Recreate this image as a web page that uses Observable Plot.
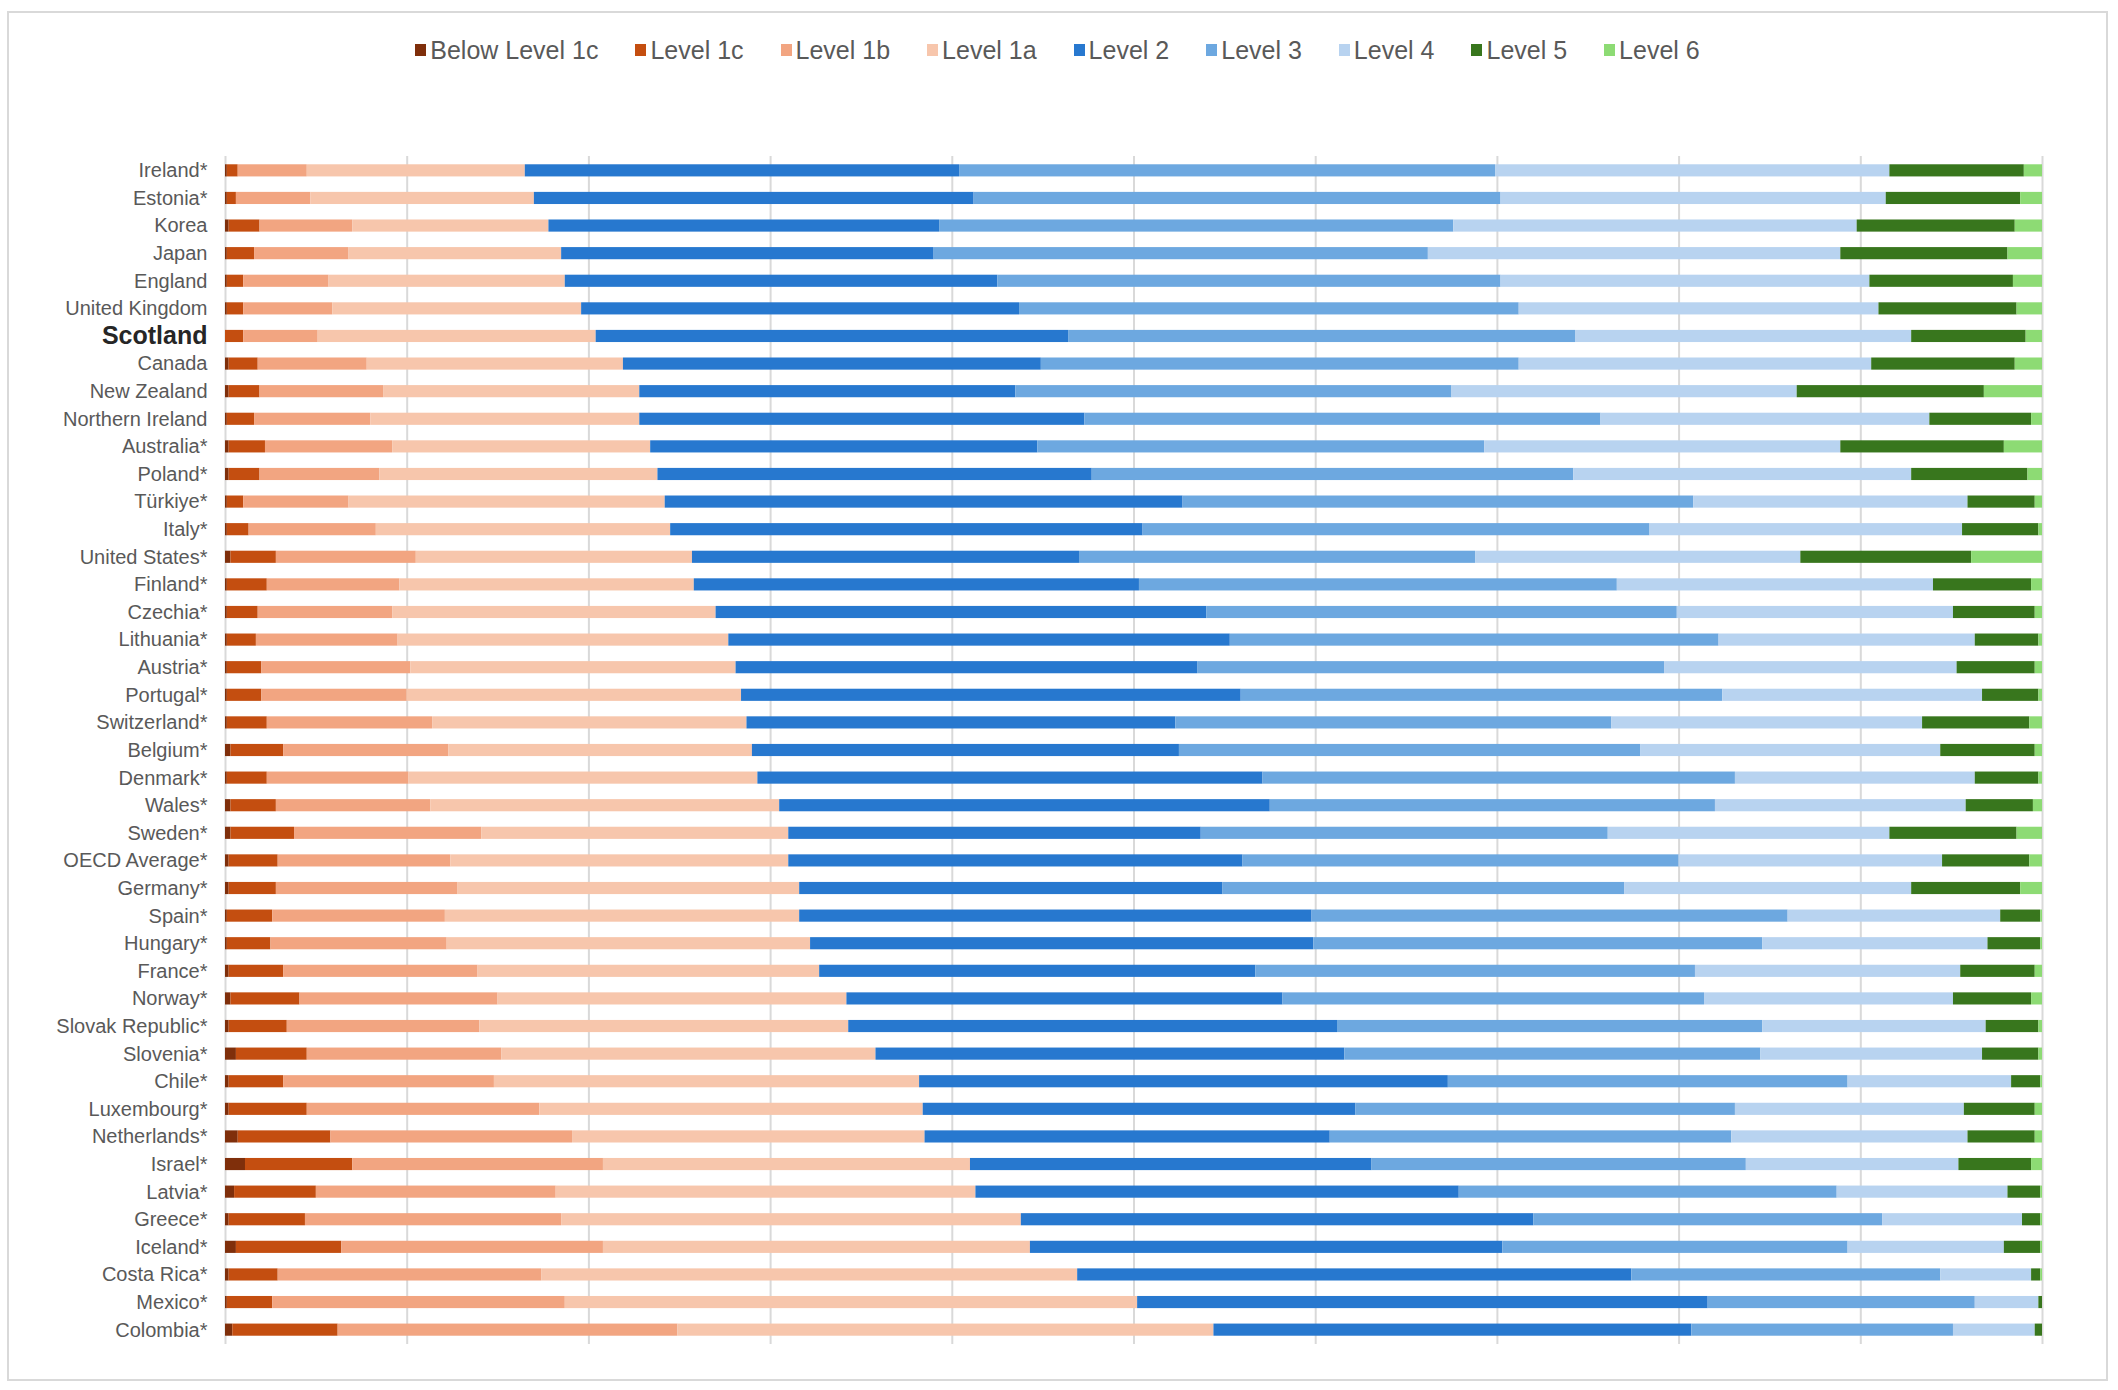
<!DOCTYPE html>
<html>
<head>
<meta charset="utf-8">
<script src="https://cdn.jsdelivr.net/npm/d3@7"></script>
<script src="https://cdn.jsdelivr.net/npm/@observablehq/plot@0.6"></script>
<style>
html,body{margin:0;padding:0;background:#fff;}
body{width:2118px;height:1390px;overflow:hidden;font-family:"Liberation Sans",Arial,sans-serif;position:relative;}
#frame{position:absolute;left:7px;top:11px;width:2101px;height:1370px;border:2px solid #d9d9d9;box-sizing:border-box;}
#legend{height:74px;display:flex;justify-content:center;align-items:center;gap:37px;font-size:25px;color:#595959;}
.item{display:flex;align-items:center;white-space:nowrap;}
.sw{width:11px;height:12px;margin-right:4px;}
</style>
</head>
<body>
<div id="frame"><div id="legend"></div><div id="chart"></div></div>
<script>
const countries = ["Ireland*","Estonia*","Korea","Japan","England","United Kingdom","Scotland","Canada","New Zealand","Northern Ireland","Australia*","Poland*","Türkiye*","Italy*","United States*","Finland*","Czechia*","Lithuania*","Austria*","Portugal*","Switzerland*","Belgium*","Denmark*","Wales*","Sweden*","OECD Average*","Germany*","Spain*","Hungary*","France*","Norway*","Slovak Republic*","Slovenia*","Chile*","Luxembourg*","Netherlands*","Israel*","Latvia*","Greece*","Iceland*","Costa Rica*","Mexico*","Colombia*"];

const levels = ["Below Level 1c","Level 1c","Level 1b","Level 1a","Level 2","Level 3","Level 4","Level 5","Level 6"];
const colors = ["#7f2f0b","#c44e10","#f2a581","#f7c6ac","#2778cf","#6da8e0","#b8d3f0","#38761d","#8ddb74"];

const belowL1c = [0.1,0.1,0.2,0.1,0.1,0.1,0,0.2,0.2,0.1,0.2,0.2,0.1,0.1,0.3,0.1,0.1,0.1,0.1,0.1,0.1,0.3,0.1,0.3,0.3,0.2,0.2,0.1,0.1,0.2,0.3,0.2,0.6,0.2,0.2,0.7,1.1,0.5,0.2,0.6,0.2,0.1,0.4];
const level1c = [0.6,0.5,1.7,1.5,0.9,0.9,1.0,1.6,1.7,1.5,2.0,1.7,0.9,1.2,2.5,2.2,1.7,1.6,1.9,1.9,2.2,2.9,2.2,2.5,3.5,2.7,2.6,2.5,2.4,3.0,3.8,3.2,3.9,3.0,4.3,5.1,5.9,4.5,4.2,5.8,2.7,2.5,5.8];
const level1b = [3.8,4.1,5.1,5.2,4.7,4.9,4.1,6.0,6.8,6.4,7.0,6.6,5.8,7.0,7.7,7.3,7.4,7.8,8.2,8.0,9.1,9.1,7.8,8.5,10.3,9.5,10.0,9.5,9.7,10.7,10.9,10.6,10.7,11.6,12.8,13.3,13.8,13.2,14.1,14.4,14.5,16.1,18.7];
const level1a = [12.0,12.3,10.8,11.7,13.0,13.7,15.3,14.1,14.1,14.8,14.2,15.3,17.4,16.2,15.2,16.2,17.8,18.2,17.9,18.4,17.3,16.7,19.2,19.2,16.9,18.6,18.8,19.5,20.0,18.8,19.2,20.3,20.6,23.4,21.1,19.4,20.2,23.1,25.3,23.5,29.5,31.5,29.5];
const level2 = [23.9,24.2,21.5,20.5,23.8,24.1,26.0,23.0,20.7,24.5,21.3,23.9,28.5,26.0,21.3,24.5,27.0,27.6,25.4,27.5,23.6,23.5,27.8,27.0,22.7,25.0,23.3,28.2,27.7,24.0,24.0,26.9,25.8,29.1,23.8,22.3,22.1,26.6,28.2,26.0,30.5,31.4,26.3];
const level3 = [29.5,29.0,28.3,27.2,27.7,27.5,27.9,26.3,24.0,28.4,24.6,26.5,28.1,27.9,21.8,26.3,25.9,26.9,25.7,26.5,24.0,25.4,26.0,24.5,22.4,24.0,22.1,26.2,24.7,24.2,23.2,23.4,22.9,22.0,20.9,22.1,20.6,20.8,19.2,19.0,17.0,14.7,14.4];
const level4 = [21.7,21.2,22.2,22.7,20.3,19.8,18.5,19.4,19.0,18.1,19.6,18.6,15.1,17.2,17.9,17.4,15.2,14.1,16.1,14.3,17.1,16.5,13.2,13.8,15.5,14.5,15.8,11.7,12.4,14.6,13.7,12.3,12.2,9.0,12.6,13.0,11.7,9.4,7.7,8.6,5.0,3.5,4.5];
const level5 = [7.4,7.4,8.7,9.2,7.9,7.6,6.3,7.9,10.3,5.6,9.0,6.4,3.7,4.2,9.4,5.4,4.5,3.5,4.3,3.1,5.9,5.2,3.5,3.7,7.0,4.8,6.0,2.2,2.9,4.1,4.3,2.9,3.1,1.6,3.9,3.7,4.0,1.8,1.0,2.0,0.5,0.2,0.4];
const level6 = [1.0,1.2,1.5,1.9,1.6,1.4,0.9,1.5,3.2,0.6,2.1,0.8,0.4,0.2,3.9,0.6,0.4,0.2,0.4,0.2,0.7,0.4,0.2,0.5,1.4,0.7,1.2,0.1,0.1,0.4,0.6,0.2,0.2,0.1,0.4,0.4,0.6,0.1,0.1,0.1,0.1,0.0,0.0];

const gridTicks = [0,10,20,30,40,50,60,70,80,90,100];

const series = [belowL1c, level1c, level1b, level1a, level2, level3, level4, level5, level6];
const data = [];
countries.forEach((c, i) => levels.forEach((l, j) => data.push({country: c, level: l, value: series[j][i]})));

// Legend
const legend = document.getElementById("legend");
levels.forEach((l, j) => {
  const item = document.createElement("div");
  item.className = "item";
  const sw = document.createElement("span");
  sw.className = "sw";
  sw.style.background = colors[j];
  const t = document.createElement("span");
  t.textContent = l;
  item.appendChild(sw); item.appendChild(t);
  legend.appendChild(item);
});

const plot = Plot.plot({
  width: 2097,
  height: 1291,
  marginLeft: 216,
  marginRight: 64,
  marginTop: 69,
  marginBottom: 34,
  x: {domain: [0, 100], axis: null},
  y: {domain: countries, paddingInner: 0.56, paddingOuter: 0.3, round: false, axis: null},
  color: {domain: levels, range: colors},
  style: {fontFamily: "Liberation Sans, Arial, sans-serif", background: "white"},
  marks: [
    Plot.ruleX(gridTicks, {x: d => d, stroke: "#d9d9d9", strokeWidth: 2}),
    Plot.barX(data, Plot.stackX({x: "value", y: "country", fill: "level"})),
    Plot.text(countries.filter(c => c !== "Scotland"), {x: 0, y: d => d, text: d => d, textAnchor: "end", dx: -18, fontSize: 20, fill: "#595959"}),
    Plot.text(["Scotland"], {x: 0, y: d => d, text: d => d, textAnchor: "end", dx: -18, fontSize: 25, fontWeight: "bold", fill: "#262626"})
  ]
});
document.getElementById("chart").appendChild(plot);
</script>
</body>
</html>
